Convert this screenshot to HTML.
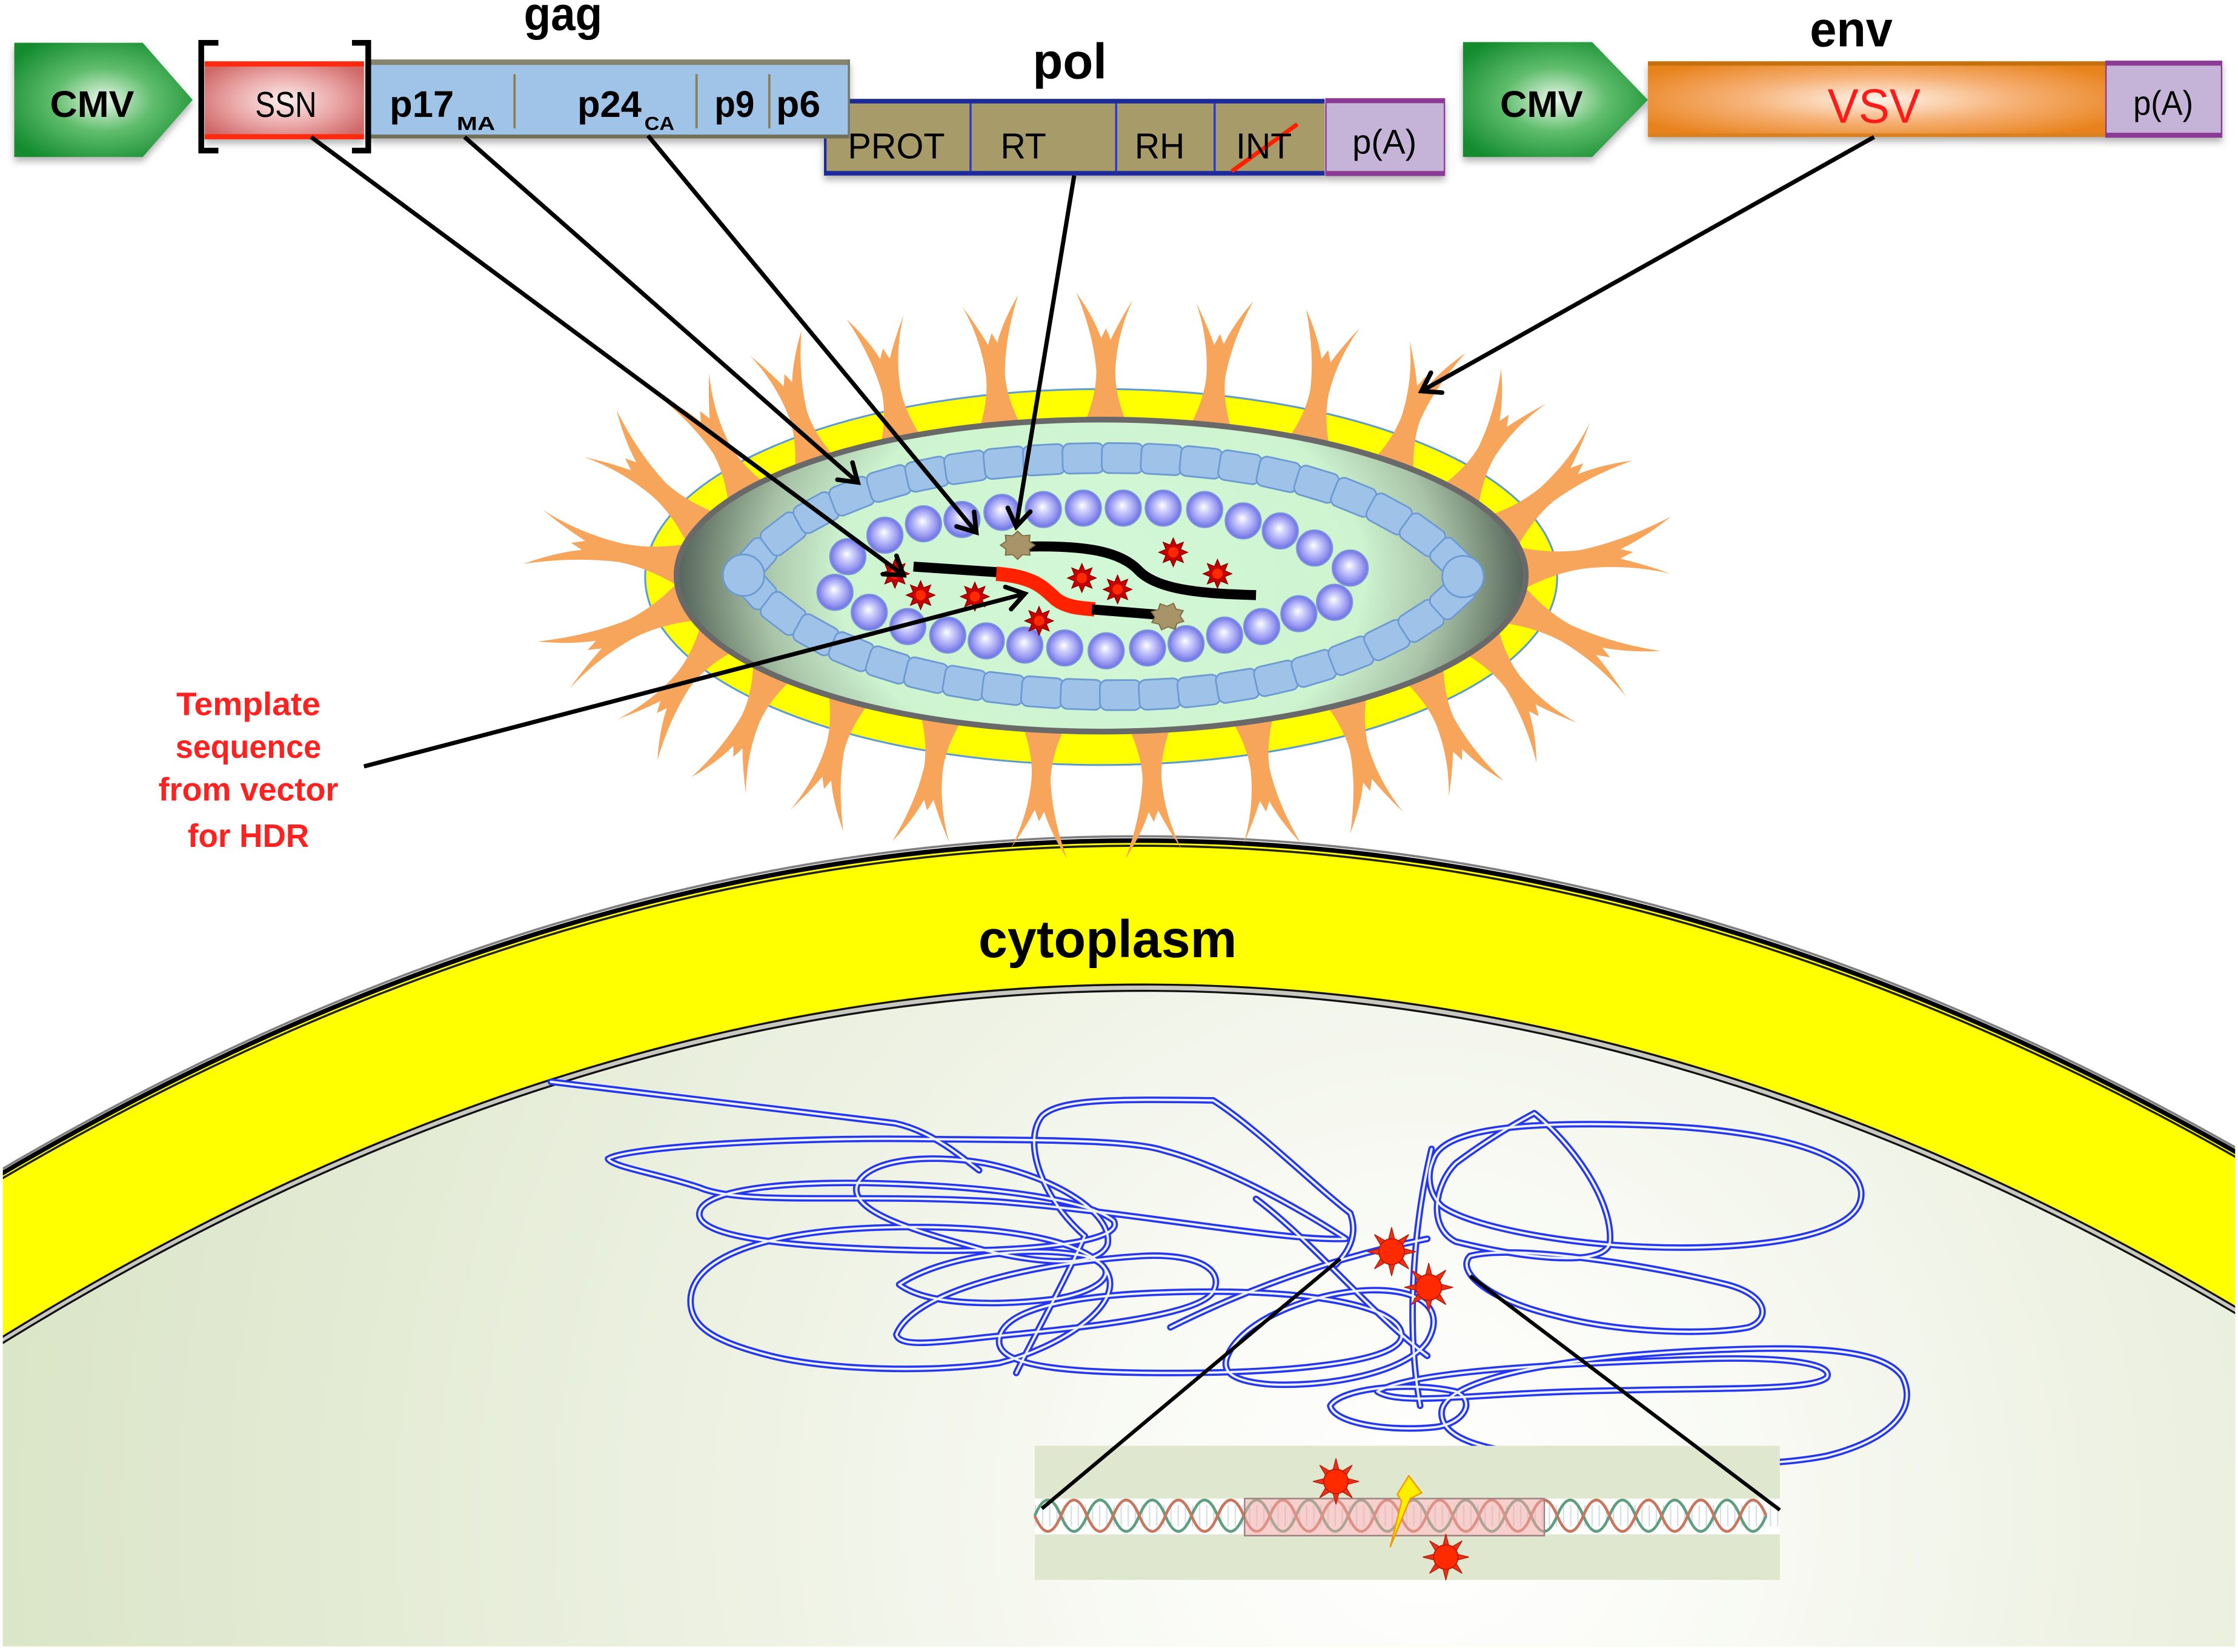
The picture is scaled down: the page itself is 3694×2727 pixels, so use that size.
<!DOCTYPE html>
<html><head><meta charset="utf-8">
<style>
html,body{margin:0;padding:0;background:#fff;}
svg{display:block;}
text{font-family:"Liberation Sans",Arial,sans-serif;}
</style></head><body>
<svg id="s" xmlns="http://www.w3.org/2000/svg" width="3694" height="2727" viewBox="0 0 1568 1157.5" preserveAspectRatio="none">
<defs>
  <radialGradient id="cmvG" cx="0.5" cy="0.5" r="0.62">
    <stop offset="0" stop-color="#eaf7ea"/>
    <stop offset="0.45" stop-color="#5fbd6c"/>
    <stop offset="1" stop-color="#138b2e"/>
  </radialGradient>
  <radialGradient id="ssnG" cx="0.5" cy="0.5" r="0.6">
    <stop offset="0" stop-color="#fbeeee"/>
    <stop offset="0.55" stop-color="#eaa6a6"/>
    <stop offset="1" stop-color="#d06868"/>
  </radialGradient>
  <radialGradient id="vsvG" cx="0.5" cy="0.5" r="0.6">
    <stop offset="0" stop-color="#fff3ea"/>
    <stop offset="0.5" stop-color="#f6b176"/>
    <stop offset="1" stop-color="#e8821c"/>
  </radialGradient>
  <radialGradient id="capG" cx="0.5" cy="0.5" r="0.5" gradientTransform="translate(0.5 0.5) scale(1 2) translate(-0.5 -0.5)">
    <stop offset="0" stop-color="#d3f8d7"/>
    <stop offset="0.62" stop-color="#cdf3cf"/>
    <stop offset="0.8" stop-color="#a8c3a8"/>
    <stop offset="0.91" stop-color="#7b8f7b"/>
    <stop offset="1" stop-color="#53635a"/>
  </radialGradient>
  <radialGradient id="ballG" cx="0.5" cy="0.5" r="0.5" fx="0.47" fy="0.42">
    <stop offset="0" stop-color="#ffffff"/>
    <stop offset="0.3" stop-color="#d2d2ff"/>
    <stop offset="0.75" stop-color="#9596f0"/>
    <stop offset="1" stop-color="#6c70e2"/>
  </radialGradient>
  <radialGradient id="nucG" gradientUnits="userSpaceOnUse" cx="1000" cy="1060" r="1050">
    <stop offset="0" stop-color="#ffffff"/>
    <stop offset="0.15" stop-color="#fbfcf8"/>
    <stop offset="0.45" stop-color="#eef2e4"/>
    <stop offset="1" stop-color="#d9e4c5"/>
  </radialGradient>
  <filter id="sh" x="-5%" y="-20%" width="110%" height="160%">
    <feDropShadow dx="0" dy="3" stdDeviation="2.5" flood-color="#000" flood-opacity="0.3"/>
  </filter>
  <clipPath id="cellClip"><rect x="2" y="0" width="1564" height="1153.5"/></clipPath>
  <marker id="ah" viewBox="0 0 20 20" refX="17" refY="10" markerWidth="20" markerHeight="20" markerUnits="userSpaceOnUse" orient="auto">
    <path d="M5,2 L17,10 L5,18" fill="none" stroke="#000" stroke-width="3.2" stroke-linecap="round"/>
  </marker>
  <g id="rstar">
    <polygon points="10,0 5.08,2.1 7.07,7.07 2.1,5.08 0,10 -2.1,5.08 -7.07,7.07 -5.08,2.1 -10,0 -5.08,-2.1 -7.07,-7.07 -2.1,-5.08 0,-10 2.1,-5.08 7.07,-7.07 5.08,-2.1" fill="#c40000" stroke="#8a0000" stroke-width="0.6"/>
    <circle r="3.6" fill="#ff2a00"/>
  </g>
  <g id="sun">
    <polygon points="17,0 6.47,2.68 12.02,12.02 2.68,6.47 0,17 -2.68,6.47 -12.02,12.02 -6.47,2.68 -17,0 -6.47,-2.68 -12.02,-12.02 -2.68,-6.47 0,-17 2.68,-6.47 12.02,-12.02 6.47,-2.68" fill="#e8321a" stroke="#b81a08" stroke-width="0.6"/>
    <circle r="9" fill="#ff2a00" stroke="#c01800" stroke-width="0.8"/>
  </g>
  <g id="blob">
    <polygon points="11,0 7.39,3.06 7.78,7.78 3.06,7.39 0,11 -3.06,7.39 -7.78,7.78 -7.39,3.06 -11,0 -7.39,-3.06 -7.78,-7.78 -3.06,-7.39 0,-11 3.06,-7.39 7.78,-7.78 7.39,-3.06" fill="#a89468" stroke="#7d6c45" stroke-width="0.8"/>
  </g>
  <circle id="ball" r="12.5" fill="url(#ballG)" stroke="#7b92de" stroke-width="1"/>
  <g id="chrom" fill="none" stroke-linejoin="round" stroke-linecap="round">
    <path d="M386,758 L627,787 C650,792 668,806 686,820"/>
    <path d="M426,812 C440,803 560,797 640,798 C720,799 790,798 815,806 C850,815 900,840 943,868 C900,870 800,850 700,842 C600,836 520,845 490,832 C460,822 430,818 426,812 Z"/>
    <path d="M490,850 C492,832 560,826 640,830 C700,833 760,840 780,855 C790,870 720,878 640,876 C560,874 488,868 490,850 Z"/>
    <path d="M484,915 C480,880 540,862 620,860 C700,858 760,868 775,890 C790,915 740,945 700,955 C650,962 580,960 540,950 C500,940 486,930 484,915 Z"/>
    <path d="M600,832 C605,812 650,808 690,815 C740,825 780,850 776,872 C770,888 730,886 690,876 C640,862 598,850 600,832 Z"/>
    <path d="M760,866 C730,840 716,800 730,782 C742,770 780,770 850,771 C880,790 920,830 946,850 C952,866 944,878 936,886"/>
    <path d="M628,935 C640,905 720,885 800,880 C840,878 858,890 850,905 C840,922 760,930 700,936 C660,940 630,945 628,935 Z"/>
    <path d="M700,940 C700,915 760,905 850,905 C920,905 980,915 982,935 C984,955 900,962 820,962 C750,962 700,958 700,940 Z"/>
    <path d="M860,950 C870,925 920,905 960,904 C1000,903 1012,920 1000,940 C985,962 930,972 890,970 C865,968 855,962 860,950 Z"/>
    <path d="M1004,813 C1010,792 1060,786 1140,788 C1230,790 1300,805 1304,835 C1306,860 1260,872 1192,874 C1110,876 1030,860 1010,845 C1000,835 1000,822 1004,813 Z"/>
    <path d="M1075,780 C1100,800 1130,840 1128,870 C1125,890 1060,880 1020,870 C1000,860 1005,830 1020,815 C1040,800 1060,788 1075,780 Z"/>
    <path d="M1030,880 C1060,872 1150,885 1210,900 C1240,908 1240,925 1225,930 C1200,935 1140,935 1090,922 C1040,910 1020,890 1030,880 Z"/>
    <path d="M1010,990 C1010,965 1100,950 1200,946 C1270,943 1320,945 1333,965 C1345,990 1320,1010 1280,1020 C1230,1030 1150,1026 1080,1020 C1030,1015 1010,1005 1010,990 Z"/>
    <path d="M965,975 C990,960 1100,955 1200,952 C1250,951 1285,955 1280,965 C1270,975 1200,972 1100,975 C1030,977 980,985 965,975 Z"/>
    <path d="M932,985 C940,972 990,968 1020,975 C1035,982 1025,998 1005,1000 C975,1003 935,998 932,985 Z"/>
    <path d="M880,840 C920,870 960,920 1000,950"/>
    <path d="M1003,805 C990,860 985,930 995,985"/>
    <path d="M820,930 C880,900 940,880 1000,868"/>
    <path d="M760,866 C745,900 725,935 712,962"/>
    <path d="M630,900 C660,880 720,872 760,880 C790,890 770,905 740,910 C700,915 650,915 630,900 Z"/>
  </g>
</defs>

<rect x="0" y="0" width="1568" height="1157.5" fill="#ffffff"/>

<!-- ================= CELL ================= -->
<g clip-path="url(#cellClip)">
  <path d="M-16,832.5 Q784,353.2 1584,817.2 L1584,1200 L-16,1200 Z" fill="#ffff00"/>
  <path d="M-16,950 Q784,445 1584,928.6 L1584,1200 L-16,1200 Z" fill="url(#nucG)"/>
  <path d="M-16,832.5 Q784,353.2 1584,817.2" transform="translate(0,-3)" fill="none" stroke="#808080" stroke-width="1.6"/>
  <path d="M-16,832.5 Q784,353.2 1584,817.2" fill="none" stroke="#000" stroke-width="3.2"/>
  <path d="M-16,832.5 Q784,353.2 1584,817.2" transform="translate(0,3.6)" fill="none" stroke="#222" stroke-width="1.5"/>
  <path d="M-16,950 Q784,445 1584,928.6" fill="none" stroke="#c8c8c0" stroke-width="3"/>
  <path d="M-16,950 Q784,445 1584,928.6" transform="translate(0,-2.2)" fill="none" stroke="#111" stroke-width="1.4"/>
  <path d="M-16,950 Q784,445 1584,928.6" transform="translate(0,2.2)" fill="none" stroke="#111" stroke-width="1.4"/>

  <use href="#chrom" stroke="#2436f0" stroke-width="4.6"/>
  <use href="#chrom" stroke="#eef2fb" stroke-width="1.6"/>
  <use href="#sun" transform="translate(975,877)"/>
  <use href="#sun" transform="translate(1001,902)"/>

  <rect x="725" y="1013" width="522" height="94" fill="#dfe8cf"/>
  <rect x="725" y="1050" width="522" height="25" fill="#ffffff"/>
  <line x1="725" y1="1062" x2="1247" y2="1062" stroke="#a9bccb" stroke-width="15" stroke-dasharray="1 4" opacity="0.45"/>
  <path d="M725,1062 q9.15,-22 18.3,0 t18.3,0 t18.3,0 t18.3,0 t18.3,0 t18.3,0 t18.3,0 t18.3,0 t18.3,0 t18.3,0 t18.3,0 t18.3,0 t18.3,0 t18.3,0 t18.3,0 t18.3,0 t18.3,0 t18.3,0 t18.3,0 t18.3,0 t18.3,0 t18.3,0 t18.3,0 t18.3,0 t18.3,0 t18.3,0 t18.3,0 t18.3,0" fill="none" stroke="#5f9f80" stroke-width="2"/>
  <path d="M725,1062 q9.15,22 18.3,0 t18.3,0 t18.3,0 t18.3,0 t18.3,0 t18.3,0 t18.3,0 t18.3,0 t18.3,0 t18.3,0 t18.3,0 t18.3,0 t18.3,0 t18.3,0 t18.3,0 t18.3,0 t18.3,0 t18.3,0 t18.3,0 t18.3,0 t18.3,0 t18.3,0 t18.3,0 t18.3,0 t18.3,0 t18.3,0 t18.3,0 t18.3,0" fill="none" stroke="#c8765e" stroke-width="2"/>
  <rect x="872" y="1050" width="210" height="26" fill="#f0a8a4" fill-opacity="0.55" stroke="#9a8080" stroke-width="1"/>
  <use href="#sun" transform="translate(936,1038) scale(0.95)"/>
  <use href="#sun" transform="translate(1013,1091) scale(0.95)"/>
  <path d="M987,1034 L996,1046 L988,1050 L974,1084 L982,1052 L979,1047 Z" fill="#ffee00" stroke="#f09a00" stroke-width="1"/>
  <line x1="939" y1="882" x2="730" y2="1057" stroke="#000" stroke-width="2.6"/>
  <line x1="1030" y1="894" x2="1247" y2="1058" stroke="#000" stroke-width="2.6"/>
</g>

<text x="776" y="670.6" font-size="37" font-weight="bold" text-anchor="middle" textLength="181" lengthAdjust="spacingAndGlyphs" fill="#000">cytoplasm</text>

<!-- ================= VIRUS ================= -->
<ellipse cx="771.5" cy="404.3" rx="319.5" ry="131.7" fill="#ffff00" stroke="#5b9bd5" stroke-width="1.3"/>
<g id="spikes" fill="#f6a55b"></g>
<ellipse cx="771.5" cy="403.3" rx="297.5" ry="109.3" fill="url(#capG)" stroke="#696969" stroke-width="4"/>
<g id="chain"></g>
<circle cx="521" cy="403" r="14.5" fill="#9fc3e8" stroke="#6d9ad2" stroke-width="1.2"/>
<circle cx="1025" cy="404" r="14.5" fill="#9fc3e8" stroke="#6d9ad2" stroke-width="1.2"/>

<g>
  <use href="#ball" x="594" y="390"/><use href="#ball" x="620" y="375"/><use href="#ball" x="647" y="367"/>
  <use href="#ball" x="674" y="364"/><use href="#ball" x="702" y="359"/><use href="#ball" x="731" y="357"/>
  <use href="#ball" x="759" y="356"/><use href="#ball" x="787" y="356"/><use href="#ball" x="815" y="356"/>
  <use href="#ball" x="844" y="357"/><use href="#ball" x="871" y="365"/><use href="#ball" x="897" y="372"/>
  <use href="#ball" x="921" y="384"/><use href="#ball" x="946" y="398"/>
  <use href="#ball" x="585" y="415"/><use href="#ball" x="609" y="429"/><use href="#ball" x="636" y="439"/>
  <use href="#ball" x="664" y="445"/><use href="#ball" x="691" y="449"/><use href="#ball" x="718" y="452"/>
  <use href="#ball" x="746" y="454"/><use href="#ball" x="775" y="456"/><use href="#ball" x="804" y="454"/>
  <use href="#ball" x="831" y="451"/><use href="#ball" x="858" y="445"/><use href="#ball" x="884" y="439"/>
  <use href="#ball" x="910" y="430"/><use href="#ball" x="935" y="422"/>
</g>

<path d="M718,383 C760,382 785,386 798,400 C812,414 845,416 880,417" fill="none" stroke="#000" stroke-width="7"/>
<path d="M640,397 L700,401" fill="none" stroke="#000" stroke-width="7"/>
<path d="M698,402 C725,404 731,412 740,420 C748,426 758,426 767,427" fill="none" stroke="#ff2200" stroke-width="10"/>
<path d="M765,427 L815,431" fill="none" stroke="#000" stroke-width="7"/>
<use href="#blob" transform="translate(713,382) scale(1.1,0.9)"/>
<use href="#blob" transform="translate(818,432) scale(1.1,0.9) rotate(20)"/>

<use href="#rstar" transform="translate(627,402)"/>
<use href="#rstar" transform="translate(645,417)"/>
<use href="#rstar" transform="translate(683,418)"/>
<use href="#rstar" transform="translate(728,435)"/>
<use href="#rstar" transform="translate(758,405)"/>
<use href="#rstar" transform="translate(783,413)"/>
<use href="#rstar" transform="translate(822,387)"/>
<use href="#rstar" transform="translate(853,402)"/>

<!-- ================= TOP CONSTRUCTS ================= -->
<g filter="url(#sh)">
  <rect x="578" y="69.3" width="350" height="53.7" fill="#a89b6b"/>
  <rect x="578" y="69.3" width="350" height="3.2" fill="#1c2a9c"/>
  <rect x="578" y="119.8" width="350" height="3.2" fill="#1c2a9c"/>
  <rect x="577.3" y="69.3" width="1.8" height="53.7" fill="#1c2a9c"/>
  <line x1="680" y1="72.5" x2="680" y2="119.8" stroke="#2c3ad0" stroke-width="1.5"/>
  <line x1="782" y1="72.5" x2="782" y2="119.8" stroke="#2c3ad0" stroke-width="1.5"/>
  <line x1="851" y1="72.5" x2="851" y2="119.8" stroke="#2c3ad0" stroke-width="1.5"/>
  <rect x="929" y="69.3" width="83" height="53.5" fill="#c5b4d8" stroke="#8b3a96" stroke-width="1"/>
  <rect x="929" y="69.3" width="83" height="3" fill="#8b3a96"/>
  <rect x="929" y="119.8" width="83" height="3" fill="#8b3a96"/>
  <rect x="259" y="41.7" width="336" height="55.3" fill="#9fc4e8"/>
  <rect x="259" y="41.7" width="336" height="3.8" fill="#85856e"/>
  <rect x="259" y="94.3" width="336" height="2.7" fill="#6f6f58"/>
  <rect x="594" y="41.7" width="1.5" height="55.3" fill="#777766"/>
  <line x1="360.5" y1="52" x2="360.5" y2="90" stroke="#8c7d52" stroke-width="1.6"/>
  <line x1="488" y1="52" x2="488" y2="90" stroke="#8c7d52" stroke-width="1.6"/>
  <line x1="539" y1="52" x2="539" y2="90" stroke="#8c7d52" stroke-width="1.6"/>
  <rect x="143.4" y="43" width="111.6" height="54.6" fill="url(#ssnG)"/>
  <rect x="143.4" y="43" width="111.6" height="3.6" fill="#ff2a10"/>
  <rect x="143.4" y="94" width="111.6" height="3.6" fill="#ff2a10"/>
  <polygon points="10,30 100,30 135,70 100,110 10,110" fill="url(#cmvG)"/>
  <polygon points="1025,29.5 1115.5,29.5 1154.6,70 1115.5,110 1025,110" fill="url(#cmvG)"/>
  <rect x="1154.6" y="43" width="321" height="53" fill="url(#vsvG)"/>
  <rect x="1154.6" y="43" width="321" height="3" fill="#c4700f"/>
  <rect x="1154.6" y="93.5" width="321" height="2.5" fill="#d98020"/>
  <rect x="1475.5" y="43" width="81" height="53" fill="#c5b4d8" stroke="#8b3a96" stroke-width="1"/>
  <rect x="1475.5" y="43" width="81" height="3" fill="#8b3a96"/>
  <rect x="1475.5" y="93" width="81" height="3" fill="#8b3a96"/>
</g>
<path d="M153,30 L141,30 L141,105.5 L153,105.5" fill="none" stroke="#000" stroke-width="4"/>
<path d="M246.6,30 L258,30 L258,105.5 L246.6,105.5" fill="none" stroke="#000" stroke-width="4"/>
<line x1="863" y1="120" x2="909" y2="87" stroke="#ff2000" stroke-width="3"/>

<text x="394.5" y="21" font-size="33" font-weight="bold" text-anchor="middle" textLength="55" lengthAdjust="spacingAndGlyphs">gag</text>
<text x="749.5" y="55" font-size="35" font-weight="bold" text-anchor="middle" textLength="52" lengthAdjust="spacingAndGlyphs">pol</text>
<text x="1297" y="32.5" font-size="35" font-weight="bold" text-anchor="middle" textLength="58" lengthAdjust="spacingAndGlyphs">env</text>
<text x="64.5" y="82" font-size="26" font-weight="bold" text-anchor="middle" textLength="59" lengthAdjust="spacingAndGlyphs">CMV</text>
<text x="1080" y="82" font-size="26" font-weight="bold" text-anchor="middle" textLength="58" lengthAdjust="spacingAndGlyphs">CMV</text>
<text x="200.3" y="82" font-size="25" text-anchor="middle" textLength="43" lengthAdjust="spacingAndGlyphs">SSN</text>
<text x="273" y="82" font-size="26" font-weight="bold" textLength="45" lengthAdjust="spacingAndGlyphs">p17</text>
<text x="320" y="91" font-size="13.5" font-weight="bold" textLength="27" lengthAdjust="spacingAndGlyphs">MA</text>
<text x="404.5" y="82" font-size="26" font-weight="bold" textLength="45" lengthAdjust="spacingAndGlyphs">p24</text>
<text x="451.5" y="91" font-size="13.5" font-weight="bold" textLength="21" lengthAdjust="spacingAndGlyphs">CA</text>
<text x="500.6" y="82" font-size="26" font-weight="bold" textLength="28" lengthAdjust="spacingAndGlyphs">p9</text>
<text x="543.8" y="82" font-size="26" font-weight="bold" textLength="31" lengthAdjust="spacingAndGlyphs">p6</text>
<text x="594" y="111" font-size="25" textLength="68" lengthAdjust="spacingAndGlyphs">PROT</text>
<text x="701" y="111" font-size="25" textLength="32" lengthAdjust="spacingAndGlyphs">RT</text>
<text x="795" y="111" font-size="25" textLength="35" lengthAdjust="spacingAndGlyphs">RH</text>
<text x="866" y="111" font-size="25" textLength="39" lengthAdjust="spacingAndGlyphs">INT</text>
<text x="970" y="107.5" font-size="24" text-anchor="middle" textLength="45" lengthAdjust="spacingAndGlyphs">p(A)</text>
<text x="1313" y="86" font-size="34" text-anchor="middle" textLength="65" lengthAdjust="spacingAndGlyphs" fill="#ff1a1a">VSV</text>
<text x="1515.6" y="80.5" font-size="24" text-anchor="middle" textLength="42" lengthAdjust="spacingAndGlyphs">p(A)</text>

<g font-size="23" font-weight="bold" fill="#ff2020" text-anchor="middle">
  <text x="174" y="501" textLength="101" lengthAdjust="spacingAndGlyphs">Template</text>
  <text x="174" y="531" textLength="102" lengthAdjust="spacingAndGlyphs">sequence</text>
  <text x="174" y="561" textLength="126" lengthAdjust="spacingAndGlyphs">from vector</text>
  <text x="174" y="593.5" textLength="85" lengthAdjust="spacingAndGlyphs">for HDR</text>
</g>

<g stroke="#000" stroke-width="3" fill="none" marker-end="url(#ah)">
  <line x1="218" y1="96" x2="633" y2="403"/>
  <line x1="325.5" y1="96" x2="601" y2="338"/>
  <line x1="454" y1="95" x2="684" y2="373"/>
  <line x1="752.6" y1="123" x2="712" y2="369"/>
  <line x1="1313" y1="96" x2="996" y2="274"/>
  <line x1="255" y1="537" x2="718" y2="416"/>
</g>
</svg>
<script>
(function(){
  var NS='http://www.w3.org/2000/svg';
  function mk(t,a,p){var e=document.createElementNS(NS,t);for(var k in a)e.setAttribute(k,a[k]);p.appendChild(e);return e;}
  var sg=document.getElementById('spikes');
  var spikeD="M-15,14 L-12.5,0 Q-6,-18 -6,-34 Q-8,-60 -19,-89 Q-8,-72 -3,-57 L0,-64 L3,-56 Q9,-70 17,-84 Q7,-60 6,-34 Q6,-18 12.5,0 L15,14 Z";
  var cx=771.5,cy=403.3,rx=297.5,ry=109.3,N=25,off=3*Math.PI/180;
  for(var i=0;i<N;i++){
    var th=off+i*2*Math.PI/N;
    var c=Math.cos(th),s=Math.sin(th);
    var x=cx+rx*c,y=cy-ry*s;
    var nx=c/rx,ny=-s/ry;
    var ang=Math.atan2(ny,nx)*180/Math.PI+90;
    var ac=Math.abs(c);
    var L=87+17*Math.max(0,(ac-0.9)/0.1);
    var sy=L/87;
    var sx=((i%2)?-1:1)*1.1;
    mk('path',{d:spikeD,transform:'translate('+x.toFixed(2)+','+y.toFixed(2)+') rotate('+ang.toFixed(2)+') scale('+sx+','+sy.toFixed(3)+')'},sg);
  }
  var cg=document.getElementById('chain');
  function chain(d){
    var p=mk('path',{d:d,fill:'none',stroke:'none'},cg);
    var Lt=p.getTotalLength();
    var n=Math.max(1,Math.round((Lt-24)/27.5));
    var step=(Lt-24)/n;
    for(var i=0;i<=n;i++){
      var sL=12+i*step;
      var a=p.getPointAtLength(Math.max(0,sL-1)),b=p.getPointAtLength(Math.min(Lt,sL+1)),pt=p.getPointAtLength(sL);
      var ang=Math.atan2(b.y-a.y,b.x-a.x)*180/Math.PI;
      mk('rect',{x:(-step/2-0.8).toFixed(2),y:-10.5,width:(step+1.6).toFixed(2),height:21,rx:5,transform:'translate('+pt.x.toFixed(2)+','+pt.y.toFixed(2)+') rotate('+ang.toFixed(2)+')',fill:'#9fc3e8',stroke:'#6d9ad2','stroke-width':1.2},cg);
    }
  }
  chain("M521,402 C560,350 640,322 770,321 C900,320 980,350 1026,401");
  chain("M521,402 C560,455 650,486 780,487 C900,488 990,450 1026,410");
})();
</script>
</body></html>
